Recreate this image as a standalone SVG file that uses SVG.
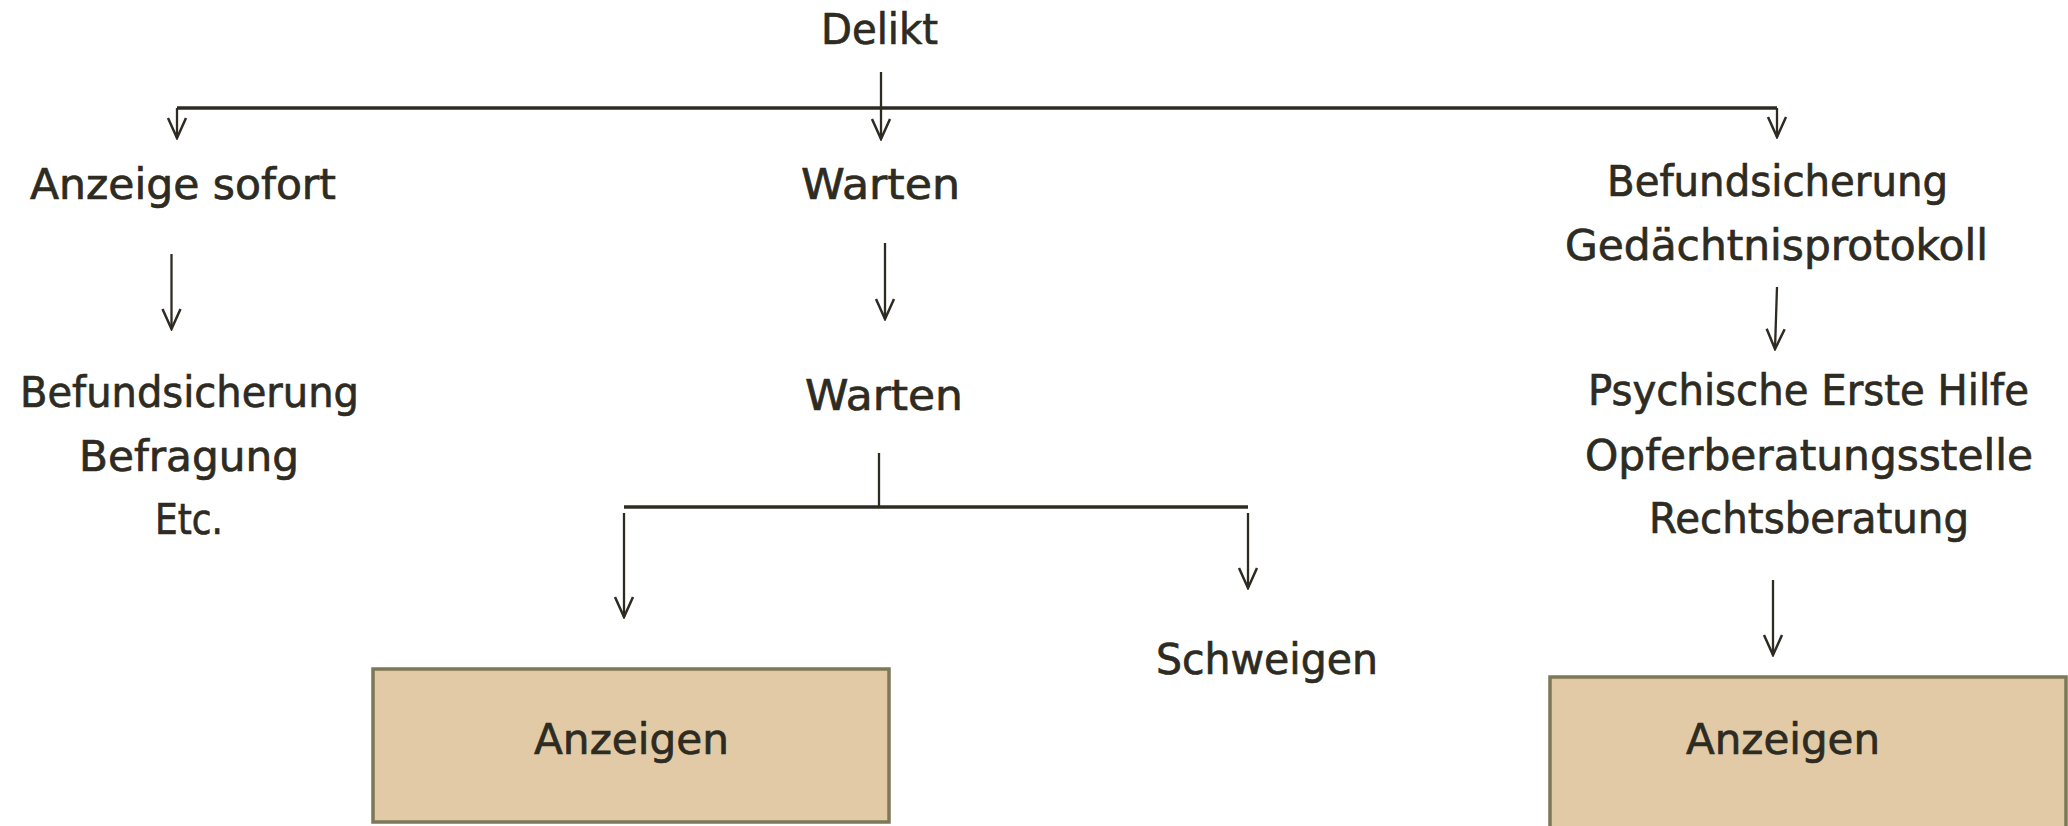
<svg xmlns="http://www.w3.org/2000/svg" width="2068" height="826" viewBox="0 0 2068 826">
<style>
text{font-family:"DejaVu Sans","Liberation Sans",sans-serif;font-size:42px;fill:#2d2b22;stroke:#2d2b22;stroke-width:0.7}
.c{fill:none;stroke:#2d2b22;stroke-width:2.3}
.h{stroke-width:3.6}
.box{fill:#e1caa5;stroke:#7d7857;stroke-width:3.5}
</style>
<defs>
<marker id="a" markerUnits="userSpaceOnUse" markerWidth="24" markerHeight="24" viewBox="-22 -11 24 22" refX="0" refY="0" orient="auto">
<path d="M-20,-9 L0,0 L-20,9" fill="none" stroke="#2d2b22" stroke-width="2.5"/>
</marker>
</defs>
<rect width="2068" height="826" fill="#fff"/>
<g id="connectors">
<path class="c h" d="M177 108 H1777"/>
<path class="c" d="M881 72 V139" marker-end="url(#a)"/>
<path class="c" d="M177 108 V138" marker-end="url(#a)"/>
<path class="c" d="M1777 108 V137" marker-end="url(#a)"/>
<path class="c" d="M885 243 V319" marker-end="url(#a)"/>
<path class="c" d="M171.5 254 V329" marker-end="url(#a)"/>
<path class="c" d="M1777 287 L1775 349" marker-end="url(#a)"/>
<path class="c" d="M879 453 V507"/>
<path class="c h" d="M624 507 H1248"/>
<path class="c" d="M624 513 V617" marker-end="url(#a)"/>
<path class="c" d="M1248 513 V588" marker-end="url(#a)"/>
<path class="c" d="M1773 580 V655" marker-end="url(#a)"/>
</g>
<g id="delikt"><text x="821" y="44" textLength="117" lengthAdjust="spacingAndGlyphs">Delikt</text></g>
<g id="anzeige-sofort"><text x="30" y="199" textLength="306" lengthAdjust="spacingAndGlyphs">Anzeige sofort</text></g>
<g id="befund-left">
<text x="20" y="407" textLength="339" lengthAdjust="spacingAndGlyphs">Befundsicherung</text>
<text x="79" y="471" textLength="220" lengthAdjust="spacingAndGlyphs">Befragung</text>
<text x="155" y="534" textLength="68" lengthAdjust="spacingAndGlyphs">Etc.</text>
</g>
<g id="warten1"><text x="801" y="199" textLength="159" lengthAdjust="spacingAndGlyphs">Warten</text></g>
<g id="warten2"><text x="805" y="410" textLength="158" lengthAdjust="spacingAndGlyphs">Warten</text></g>
<g id="anzeigen-left">
<rect class="box" x="373" y="669" width="516" height="153"/>
<text x="534" y="754" textLength="195" lengthAdjust="spacingAndGlyphs">Anzeigen</text>
</g>
<g id="schweigen"><text x="1156" y="674" textLength="222" lengthAdjust="spacingAndGlyphs">Schweigen</text></g>
<g id="befund-right">
<text x="1607" y="196" textLength="341" lengthAdjust="spacingAndGlyphs">Befundsicherung</text>
<text x="1565" y="260" textLength="423" lengthAdjust="spacingAndGlyphs">Gedächtnisprotokoll</text>
</g>
<g id="hilfe">
<text x="1588" y="405" textLength="441" lengthAdjust="spacingAndGlyphs">Psychische Erste Hilfe</text>
<text x="1585" y="470" textLength="448" lengthAdjust="spacingAndGlyphs">Opferberatungsstelle</text>
<text x="1649" y="533" textLength="320" lengthAdjust="spacingAndGlyphs">Rechtsberatung</text>
</g>
<g id="anzeigen-right">
<rect class="box" x="1550" y="677" width="516" height="160"/>
<text x="1686" y="754" textLength="194" lengthAdjust="spacingAndGlyphs">Anzeigen</text>
</g>
</svg>
